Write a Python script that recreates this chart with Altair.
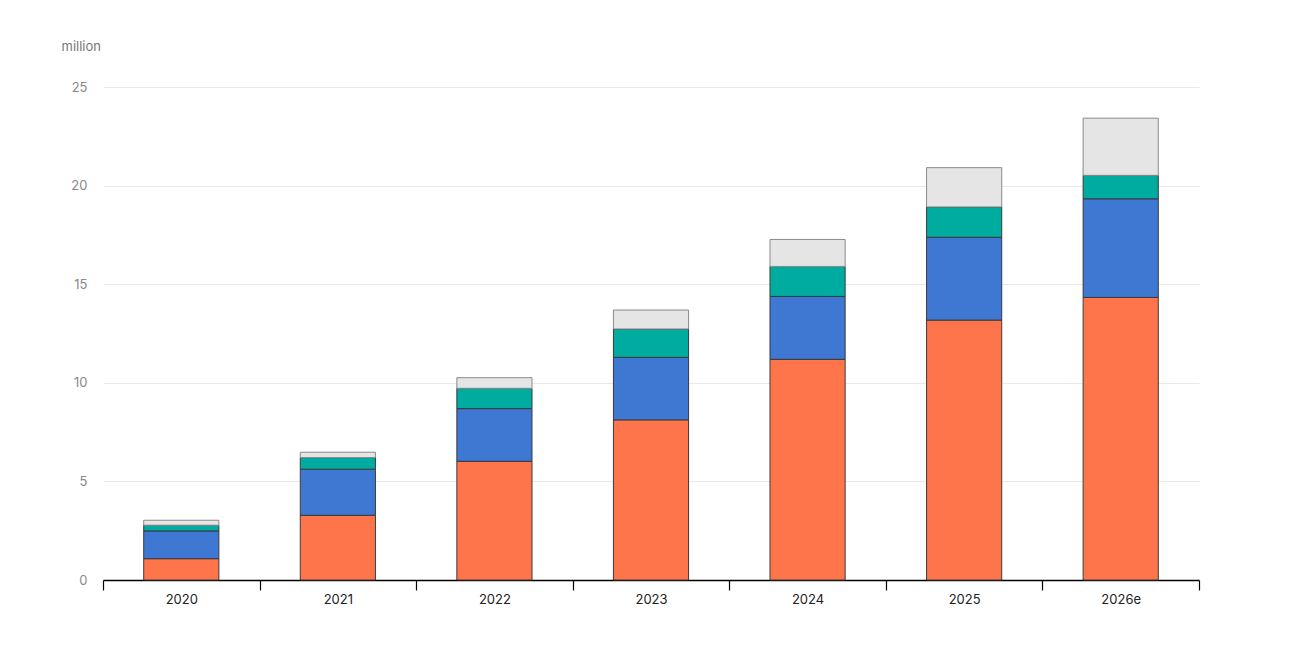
import altair as alt
import pandas as pd

years = ["2020", "2021", "2022", "2023", "2024", "2025", "2026e"]
china = [1.08, 3.28, 6.02, 8.12, 11.19, 13.18, 14.33]
europe = [1.41, 2.34, 2.67, 3.17, 3.19, 4.20, 5.00]
united_states = [0.29, 0.59, 1.03, 1.44, 1.52, 1.54, 1.19]
rest_of_world = [0.25, 0.27, 0.54, 0.96, 1.37, 1.99, 2.90]

series_names = ["China", "Europe", "United States", "Rest of world"]
series_colors = ["#FF754B", "#3E78D3", "#00AC9F", "#E5E5E5"]
series_strokes = ["#3a3a3a", "#3a3a3a", "#3a3a3a", "#8a8a8a"]

rows = []
for name, vals in zip(series_names, [china, europe, united_states, rest_of_world]):
    for y, v in zip(years, vals):
        rows.append({"year": y, "series": name, "value": v,
                     "order": series_names.index(name)})
df = pd.DataFrame(rows)

FONT = "Inter"

chart = alt.Chart(df).mark_bar(strokeWidth=1, width=alt.RelativeBandSize(0.48)).encode(
    x=alt.X("year:N", sort=years,
            scale=alt.Scale(paddingInner=0, paddingOuter=0),
            axis=alt.Axis(title=None, labelAngle=0, tickBand="extent",
                          ticks=True, tickSize=10, tickColor="#000",
                          tickWidth=1.2, domainColor="#000", domainWidth=1.5,
                          labelColor="#222", labelFontSize=13, labelFont=FONT,
                          labelPadding=3, grid=False)),
    y=alt.Y("value:Q", stack="zero",
            scale=alt.Scale(domain=[0, 25], nice=False),
            axis=alt.Axis(values=[0, 5, 10, 15, 20, 25], title="million",
                          titleAngle=0, titleX=-42, titleY=-41,
                          titleAlign="left", titleBaseline="middle",
                          titleColor="#777", titleFontSize=13,
                          titleFontWeight="normal", titleFont=FONT,
                          labelColor="#888", labelFontSize=13, labelFont=FONT,
                          labelPadding=16, ticks=False, domain=False,
                          grid=True, gridColor="#e9e9e9", gridWidth=1)),
    color=alt.Color("series:N", sort=series_names,
                    scale=alt.Scale(domain=series_names, range=series_colors),
                    legend=None),
    stroke=alt.Stroke("series:N",
                      scale=alt.Scale(domain=series_names, range=series_strokes),
                      legend=None),
    order=alt.Order("order:Q", sort="ascending"),
).properties(
    width=1096, height=493,
    autosize=alt.AutoSizeParams(type="none"),
    padding={"left": 95, "top": 79, "right": 10, "bottom": 60},
).configure_view(stroke=None)

chart.save("out.html", embed_options={"renderer": "svg", "actions": False})
